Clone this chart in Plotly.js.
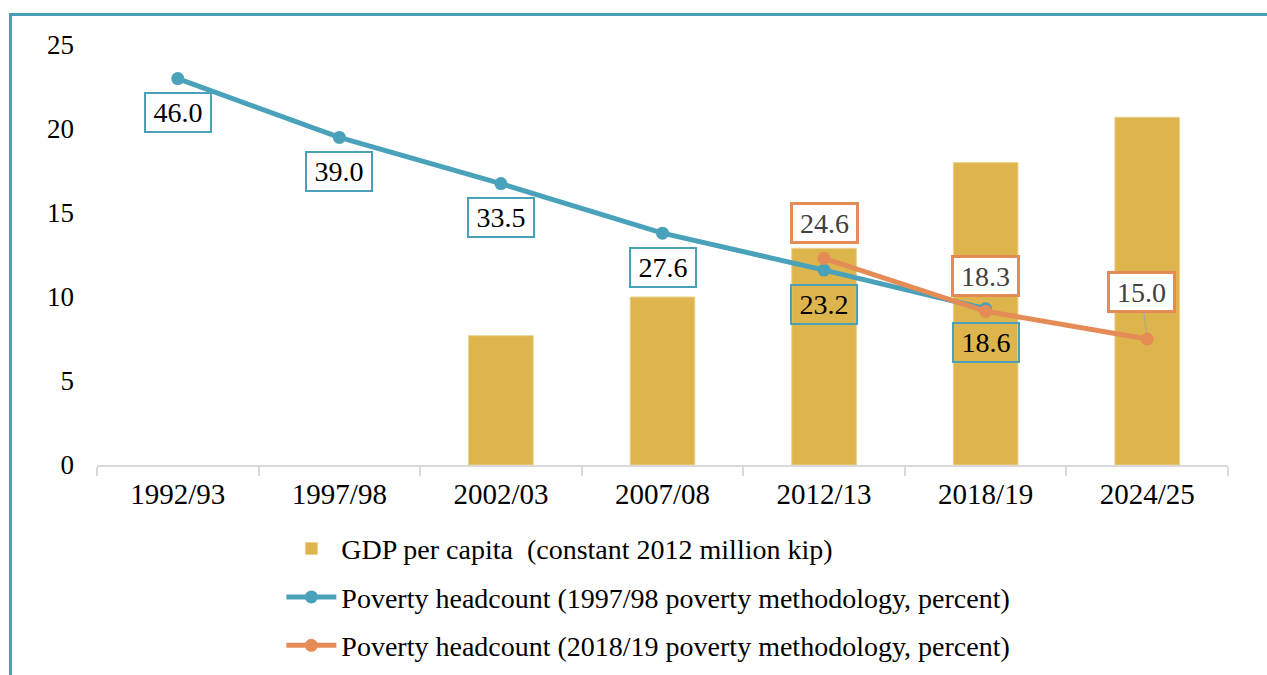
<!DOCTYPE html>
<html>
<head>
<meta charset="utf-8">
<script src="https://cdn.plot.ly/plotly-3.0.1.min.js"></script>
<style>html,body{margin:0;padding:0;background:#fff;}#chart{width:1267px;height:675px;}</style>
</head>
<body>
<div id="chart"></div>
<script>
const categories = ["1992/93","1997/98","2002/03","2007/08","2012/13","2018/19","2024/25"];
const gdpPerCapita = [null, null, 7.7, 10.0, 12.9, 18.0, 20.7];
const poverty9798 = [46.0, 39.0, 33.5, 27.6, 23.2, 18.6, null];
const poverty1819 = [null, null, null, null, 24.6, 18.3, 15.0];
const seriesNames = [
  "GDP per capita  (constant 2012 million kip)",
  "Poverty headcount (1997/98 poverty methodology, percent)",
  "Poverty headcount (2018/19 poverty methodology, percent)"
];

const FONT = '"Liberation Serif", "Times New Roman", serif';
const GOLD = '#DDB54C', TEAL = '#4AA1BA', ORANGE = '#E58C56';

const traces = [
  {type:'bar', x:categories, y:gdpPerCapita, name:seriesNames[0], legendgroup:'a', marker:{color:GOLD, line:{color:'#EBD38F', width:1}}, width:0.4, yaxis:'y'},
  {type:'scatter', mode:'lines+markers', x:categories, y:poverty9798, name:seriesNames[1], legendgroup:'b', line:{color:TEAL, width:5}, marker:{color:TEAL, size:13}, yaxis:'y2', connectgaps:false},
  {type:'scatter', mode:'lines+markers', x:categories, y:poverty1819, name:seriesNames[2], legendgroup:'c', line:{color:ORANGE, width:5}, marker:{color:ORANGE, size:13}, yaxis:'y2', connectgaps:false}
];

const annotations = [];
poverty9798.forEach((v,i)=>{
  if (v===null) return;
  annotations.push({x:categories[i], y:v, xref:'x', yref:'y2', text:v.toFixed(1), showarrow:false,
    yshift:-34, font:{family:FONT, size:28, color:'#000'}, bordercolor:TEAL, borderwidth:2,
    borderpad:4, bgcolor:'rgba(0,0,0,0)', width:56, height:29});
});
poverty1819.forEach((v,i)=>{
  if (v===null) return;
  const last = i===categories.length-1;
  const a = {x:categories[i], y:v, xref:'x', yref:'y2', text:v.toFixed(1),
    font:{family:FONT, size:28, color:'#404040'}, bordercolor:ORANGE, borderwidth:3,
    borderpad:4, bgcolor:'#fff', width:55, height:28};
  if (last) { Object.assign(a,{showarrow:true, arrowhead:0, arrowwidth:1, arrowcolor:'#A6A6A6', ax:-6, ay:-47, standoff:6}); }
  else { Object.assign(a,{showarrow:false, yshift:35}); }
  annotations.push(a);
});

const px = v => (v-97)/1131;
const py = v => (465-v)/420;

const layout = {
  width:1267, height:675,
  margin:{l:97, r:39, t:45, b:210},
  paper_bgcolor:'#fff', plot_bgcolor:'#fff',
  font:{family:FONT, size:28, color:'#000'},
  showlegend:true,
  legend:{orientation:'v', traceorder:'grouped', tracegroupgap:9, x:0.163, xanchor:'left', yref:'container', y:0.224, yanchor:'top', font:{family:FONT, size:28, color:'#000'}, itemwidth:50, bgcolor:'rgba(0,0,0,0)'},
  bargap:0.6,
  xaxis:{type:'category', showline:true, linecolor:'#D9D9D9', linewidth:2, ticks:'outside', tickson:'boundaries', ticklen:9, tickcolor:'#D9D9D9', tickwidth:2, ticklabelstandoff:2, tickfont:{family:FONT, size:29, color:'#000'}, showgrid:false, zeroline:false, fixedrange:true},
  yaxis:{range:[0,25], tickvals:[0,5,10,15,20,25], showgrid:false, zeroline:false, showline:false, ticks:'', ticklabelstandoff:22, tickfont:{family:FONT, size:27, color:'#000'}},
  yaxis2:{range:[0,50], overlaying:'y', side:'right', visible:false, showgrid:false, zeroline:false},
  annotations:annotations,
  shapes:[
    {type:'line', xref:'paper', yref:'paper', x0:px(9), x1:px(1270), y0:py(14.5), y1:py(14.5), line:{color:'#46A0B8', width:3}},
    {type:'line', xref:'paper', yref:'paper', x0:px(10.5), x1:px(10.5), y0:py(13), y1:py(700), line:{color:'#46A0B8', width:3}}
  ]
};

Plotly.newPlot('chart', traces, layout, {displayModeBar:false, staticPlot:true});
</script>
</body>
</html>
